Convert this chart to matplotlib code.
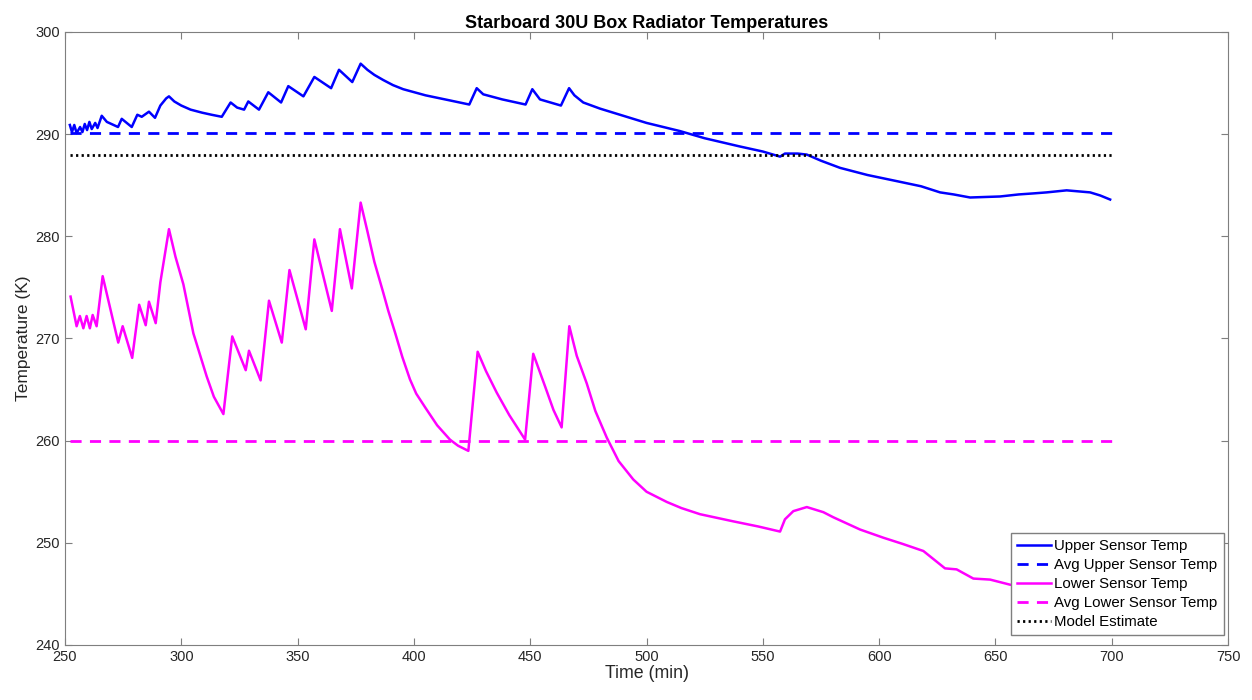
import numpy as np
import matplotlib.pyplot as plt

plt.rcParams['font.family'] = ['Liberation Sans', 'DejaVu Sans']

# upper sensor (time in min, temp in K)
upper_t = [252.1, 253, 254, 255, 256.5, 257.5, 258.5, 259.5, 260.5, 261.5, 263, 264,
           265.8, 268, 272.8, 274.4, 278.7, 281.1, 283, 286.1, 288.7, 291, 293.5, 294.7,
           297, 300, 304, 309, 313, 317.4, 321.2, 324, 327, 328.8, 333.4, 337.4, 342.9,
           346, 352.5, 357.2, 364.4, 367.8, 373.5, 377.1, 380, 383, 386.8, 391, 395.4, 405,
           415.5, 423.8, 427, 429.8, 438, 448, 450.9, 454.2, 463.2, 466.7, 469, 472.8,
           480, 490, 500, 514.4, 525, 540, 550, 557.4, 559.5, 561.7, 565, 568.9,
           575, 583.2, 595, 607.6, 618, 626.2, 632, 639.1, 652, 660, 666.3, 672,
           680.6, 690.7, 695, 699.3]
upper_T = [290.9, 290.2, 290.9, 290.1, 290.7, 290.2, 291.0, 290.4, 291.2, 290.5, 291.1, 290.6,
           291.8, 291.2, 290.7, 291.5, 290.7, 291.9, 291.7, 292.2, 291.6, 292.8, 293.5, 293.7,
           293.2, 292.8, 292.4, 292.1, 291.9, 291.7, 293.1, 292.6, 292.4, 293.2, 292.4, 294.1, 293.1,
           294.7, 293.7, 295.6, 294.5, 296.3, 295.1, 296.9, 296.3, 295.8, 295.3, 294.8, 294.4, 293.8,
           293.3, 292.9, 294.5, 293.9, 293.4, 292.9, 294.4, 293.4, 292.8, 294.5, 293.8, 293.1,
           292.5, 291.8, 291.1, 290.3, 289.6, 288.8, 288.3, 287.8, 288.1, 288.1, 288.1, 288.0,
           287.4, 286.7, 286.0, 285.4, 284.9, 284.3, 284.1, 283.8, 283.9, 284.1, 284.2, 284.3,
           284.5, 284.3, 284.0, 283.6]

# lower sensor
lower_t = [252.4, 255, 256.4, 257.9, 259.3, 260.7, 261.9, 263.6, 266.2, 272.9, 274.8,
           278.9, 281.9, 284.7, 286.1, 289, 291, 294.7, 297.5, 300.9, 305.2, 310.9, 314, 318.1,
           321.9, 327.7, 329.1, 334.1, 337.7, 343.2, 346.5, 353.5, 357.2, 364.7,
           368.2, 373.3, 377.1, 380, 383, 386.8, 389, 392, 395, 398.3, 401, 405, 410, 415.5, 419, 423.4,
           427.4, 431, 435.6, 441, 447.8, 451.3, 456.4, 460, 463.5, 466.8, 470,
           474.3, 478, 482.9, 488, 494.3, 500, 508.7, 515, 523, 537.3, 548, 557.4,
           559.5, 563.1, 568.9, 576, 580.3, 591.8, 601.8, 610, 619, 628.3, 633.3,
           640.5, 647.7, 656.3, 665, 680, 700]
lower_T = [274.1, 271.2, 272.2, 271.0, 272.2, 271.0, 272.3, 271.2, 276.1, 269.6, 271.2,
           268.1, 273.3, 271.3, 273.6, 271.5, 275.5, 280.7, 278.0, 275.3, 270.5, 266.3, 264.3, 262.6,
           270.2, 266.9, 268.8, 265.9, 273.7, 269.6, 276.7, 270.9, 279.7, 272.7,
           280.7, 274.9, 283.3, 280.5, 277.5, 274.5, 272.7, 270.5, 268.2, 266.0, 264.6, 263.2, 261.5, 260.1, 259.5, 259.0,
           268.7, 266.8, 264.7, 262.5, 260.1, 268.5, 265.3, 263.0, 261.3, 271.2, 268.3,
           265.6, 262.9, 260.3, 258.0, 256.2, 255.0, 254.0, 253.4, 252.8, 252.1, 251.6, 251.1,
           252.3, 253.1, 253.5, 253.0, 252.5, 251.3, 250.5, 249.9, 249.2, 247.5, 247.4,
           246.5, 246.4, 245.9, 245.6, 245.3, 244.8]

avg_upper = 290.1
avg_lower = 260.0
model_est = 288.0
line_span = [252, 700]

fig = plt.figure(figsize=(12.52, 7), dpi=100)
ax = fig.add_axes([0.0519, 0.0786, 0.929, 0.8757])

ax.plot(upper_t, upper_T, color='#0000ff', lw=1.8, label='Upper Sensor Temp')
ax.plot(line_span, [avg_upper] * 2, color='#0000ff', lw=2, ls=(0, (4, 3)), label='Avg Upper Sensor Temp')
ax.plot(lower_t, lower_T, color='#ff00ff', lw=1.8, label='Lower Sensor Temp')
ax.plot(line_span, [avg_lower] * 2, color='#ff00ff', lw=2, ls=(0, (4, 3)), label='Avg Lower Sensor Temp')
ax.plot(line_span, [model_est] * 2, color='black', lw=2, ls=(0, (0.8, 1.2)), label='Model Estimate')

ax.set_xlim(250, 750)
ax.set_ylim(240, 300)
ax.set_xticks(np.arange(250, 751, 50))
ax.set_yticks(np.arange(240, 301, 10))
ax.tick_params(direction='in', top=True, right=True, labelsize=10.5, colors='#7f7f7f',
               labelcolor='#262626', length=5)
for s in ax.spines.values():
    s.set_color('#7f7f7f')

ax.set_title('Starboard 30U Box Radiator Temperatures', fontsize=13, fontweight='bold', pad=3)
ax.set_xlabel('Time (min)', fontsize=12.8, color='#262626', labelpad=1)
ax.set_ylabel('Temperature (K)', fontsize=12.5, color='#262626', labelpad=3)

leg = ax.legend(loc='lower right', bbox_to_anchor=(0.9965, 0.016), fontsize=10.8, fancybox=False,
                framealpha=1, edgecolor='#7f7f7f', handlelength=2.3, handletextpad=0.2,
                labelspacing=0.33, borderpad=0.42, borderaxespad=0)
leg.get_frame().set_linewidth(1)

fig.savefig('out.png', dpi=100)
